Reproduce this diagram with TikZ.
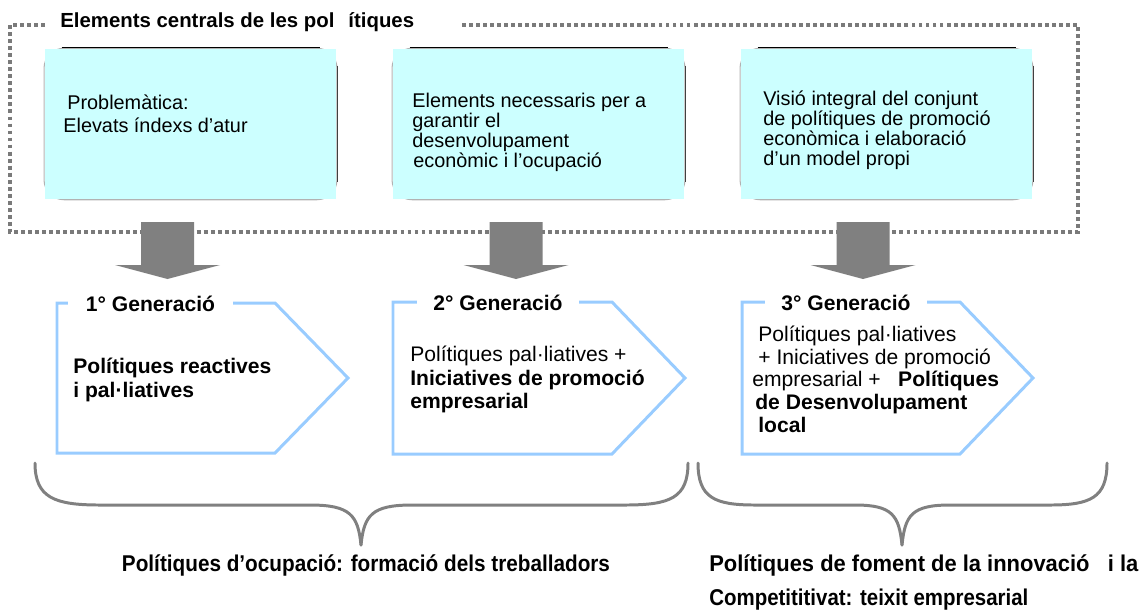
\documentclass[tikz,border=0pt]{standalone}
\usepackage{fontspec}
\setmainfont{Liberation Sans}
\usepackage{graphicx}
\definecolor{cyanbox}{HTML}{CCFFFF}
\definecolor{blockgray}{HTML}{808080}
\definecolor{dotgray}{HTML}{7A7A7A}
\definecolor{pentblue}{HTML}{99CCFF}
\newlength\pxl
\setlength\pxl{0.02cm}
\begin{document}
\begin{tikzpicture}[x=0.02cm,y=-0.02cm,
  edgebox/.style={draw=black!30, line width=0.6pt, rounded corners=0.4cm, minimum width=5.86cm, minimum height=3.03cm, inner sep=0pt},
  edgedark/.style={draw=black, line width=0.8pt},
  cyanrect/.style={fill=cyanbox, draw=none, minimum width=5.82cm, minimum height=3cm, inner sep=0pt},
  boxtext/.style={anchor=west, align=left, inner sep=0pt, font=\fontsize{11.3}{11.34}\selectfont},
  pent/.style={draw=pentblue, line width=1.7pt, line join=miter},
  genlabel/.style={fill=white, inner sep=0pt, minimum height=12pt, font=\fontsize{12}{14}\selectfont\bfseries},
  penttext/.style={anchor=west, align=left, inner sep=0pt, font=\fontsize{12}{13.3}\selectfont},
  dotframe/.style={draw=dotgray, line width=2pt, dash pattern=on 2.2pt off 1.8pt},
  blockarrow/.style={fill=blockgray, draw=none},
  bracestyle/.style={draw=blockgray, line width=1.7pt, line cap=round},
  bottomtext/.style={inner sep=0pt, font=\fontsize{13}{15}\selectfont\bfseries}
]
\useasboundingbox (0,0) rectangle (1142,610);

% dotted frame
\coordinate (fa) at (45,25);
\coordinate (fb) at (10,25);
\coordinate (fc) at (10,232);
\coordinate (fd) at (1078,232);
\coordinate (fe) at (1078,25);
\coordinate (ff) at (462,25);
\draw[dotframe] (fa) -- (fb) -- (fc) -- (fd) -- (fe) -- (ff);
\node[anchor=base west, inner sep=0pt, font=\fontsize{11.6}{13}\selectfont\bfseries] (title) at (60,27) {Elements centrals de les pol\hspace{14\pxl}ítiques};

% cyan boxes with their shadow edges
\foreach \n/\x in {1/190.5, 2/538.5, 3/886.5}{
  \node[edgebox] (e\n) at (\x,124) {};
  \draw[edgedark] ([xshift=18\pxl]e\n.north west) -- ([xshift=-18\pxl]e\n.north east);
  \draw[edgedark, draw=black!75] ([yshift=-18\pxl]e\n.north east) -- ([yshift=18\pxl]e\n.south east);
  \node[cyanrect] (b\n) at (\x,124) {};
}

\node[boxtext, font=\fontsize{11.3}{13}\selectfont] (t1) at (63,113.5) {\hspace*{4\pxl}Problemàtica:\\Elevats índexs d’atur};
\node[boxtext] (t2) at (412,132) {Elements necessaris per a\\garantir el\\desenvolupament\\\hspace*{1\pxl}econòmic i l’ocupació};
\node[boxtext] (t3) at (763,130) {Visió integral del conjunt\\de polítiques de promoció\\econòmica i elaboració\\d’un model propi};

% block arrows
\coordinate (a1) at (167.5,222);
\coordinate (a2) at (516,222);
\coordinate (a3) at (863,222);
\foreach \a in {a1,a2,a3}{
  \fill[blockarrow, shift={(\a)}] (-26.5,0) -- (26.5,0) -- (26.5,43) -- (52.5,43) -- (0,57) -- (-52.5,43) -- (-26.5,43) -- cycle;
}

% pentagons
\draw[pent] (57,303) -- (275,303) -- (348,378) -- (275,453) -- (57,453) -- cycle;
\draw[pent] (393,302) -- (612,302) -- (685,378) -- (612,454) -- (393,454) -- cycle;
\draw[pent] (742,302) -- (960,302) -- (1033,378) -- (960,454) -- (742,454) -- cycle;

\node[genlabel, minimum width=165\pxl] (g1) at (150.5,304) {1° Generació};
\node[genlabel, minimum width=162\pxl] (g2) at (498,303) {2° Generació};
\node[genlabel, minimum width=162\pxl] (g3) at (846,303) {3° Generació};

\node[penttext, font=\fontsize{12}{13.6}\selectfont\bfseries] (p1) at (73,380) {Polítiques reactives\\i pal·liatives};
\node[penttext] (p2) at (410,379.5) {Polítiques pal·liatives +\\\textbf{Iniciatives de promoció}\\\textbf{empresarial}};
\node[penttext, font=\fontsize{12}{12.9}\selectfont] (p3) at (752,379) {\hspace*{6\pxl}Polítiques pal·liatives\\\hspace*{6\pxl}+ Iniciatives de promoció\\empresarial + \ \ \textbf{Polítiques}\\\hspace*{3\pxl}\textbf{de Desenvolupament}\\\hspace*{6\pxl}\textbf{local}};

% braces
\coordinate (ba) at (35,463);
\coordinate (bt) at (361,545);
\coordinate (bb) at (688,463);
\draw[bracestyle] (ba) .. controls (35,498) and (55,505) .. (100,505) -- (310,505) .. controls (350,505) and (358,515) .. (bt);
\draw[bracestyle] (bt) .. controls (364,515) and (372,505) .. (412,505) -- (625,505) .. controls (670,505) and (688,498) .. (bb);
\coordinate (bc) at (698,463);
\coordinate (bu) at (902,545);
\coordinate (bd) at (1107,463);
\draw[bracestyle] (bc) .. controls (698,498) and (715,505) .. (755,505) -- (855,505) .. controls (892,505) and (899,515) .. (bu);
\draw[bracestyle] (bu) .. controls (905,515) and (912,505) .. (950,505) -- (1050,505) .. controls (1090,505) and (1107,498) .. (bd);

% bottom texts
\node[bottomtext] (l1) at (366,565) {\resizebox{488\pxl}{\height}{Polítiques d’ocupació: formació dels treballadors}};
\node[bottomtext, anchor=west] (l2) at (709,565) {\resizebox{429\pxl}{\height}{Polítiques de foment de la innovació \ \ i la}};
\node[bottomtext, anchor=west] (l3) at (709,600) {\resizebox{319\pxl}{\height}{Competititivat: teixit empresarial}};
\end{tikzpicture}
\end{document}
